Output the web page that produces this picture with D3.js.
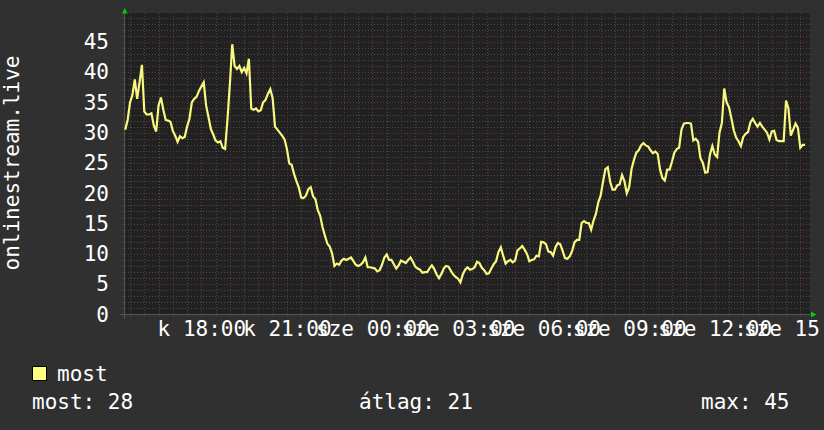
<!DOCTYPE html>
<html>
<head>
<meta charset="utf-8">
<style>
  body { margin: 0; background: #303030; }
  svg text { font-family: "DejaVu Sans Mono", monospace; font-size: 21px; fill: #ffffff; }
</style>
<script src="https://d3js.org/d3.v7.min.js"></script>
</head>
<body>
<div id="chart"></div>
<script>
// data: one sample every 5 minutes, starting k (Tue) 15:20
var startTime = new Date(2024, 0, 9, 15, 20);
var stepMinutes = 5;
var values = [
  30.5, 32.1, 35.0, 36.2, 38.8, 35.6, 38.3, 41.2, 33.5, 33.0, 33.0, 33.2, 31.2, 30.2, 34.5, 35.8,
  33.8, 32.1, 32.0, 31.8, 30.3, 29.5, 28.5, 29.4, 29.1, 29.3, 31.0, 32.3, 35.0, 35.6, 35.9, 36.9,
  37.6, 38.3, 34.5, 32.6, 30.6, 29.7, 28.7, 28.4, 28.6, 27.5, 27.3, 32.2, 38.0, 44.6, 41.0, 40.5,
  41.0, 40.0, 40.7, 39.8, 42.2, 34.0, 33.8, 34.0, 33.5, 33.7, 35.0, 35.4, 36.4, 37.2, 35.7, 31.0,
  30.5, 30.0, 29.5, 28.9, 27.3, 24.9, 24.7, 23.2, 22.0, 21.0, 19.3, 19.2, 19.6, 20.7, 21.0, 19.5,
  19.0, 17.2, 16.3, 14.4, 13.0, 11.7, 11.2, 10.1, 8.0, 8.4, 8.2, 8.9, 9.2, 9.0, 9.2, 9.4,
  8.8, 8.2, 8.0, 8.2, 8.6, 9.4, 7.8, 7.8, 7.7, 7.6, 7.1, 7.3, 8.2, 9.4, 9.9, 9.0,
  9.0, 8.3, 7.6, 8.1, 8.9, 8.7, 8.5, 9.0, 9.4, 8.7, 7.9, 7.6, 7.4, 6.9, 7.0, 7.0,
  7.6, 8.1, 7.5, 6.6, 6.0, 6.7, 7.6, 8.0, 7.9, 7.2, 6.6, 6.2, 5.9, 5.3, 6.6, 7.4,
  7.8, 7.4, 7.5, 7.8, 8.7, 8.5, 7.7, 7.3, 6.7, 6.8, 7.6, 8.3, 8.8, 10.3, 11.1, 9.7,
  8.4, 8.8, 9.0, 8.6, 8.9, 10.6, 10.9, 11.3, 10.7, 10.0, 8.8, 9.0, 9.1, 9.7, 9.6, 12.0,
  11.9, 11.6, 10.4, 10.3, 9.7, 11.1, 11.8, 11.6, 10.5, 9.3, 9.2, 9.6, 10.5, 11.9, 12.3, 12.3,
  15.1, 15.4, 15.1, 15.1, 14.0, 15.5, 16.6, 18.5, 19.6, 21.9, 24.0, 24.3, 21.9, 20.6, 20.6, 21.3,
  21.5, 23.0, 22.0, 20.0, 21.0, 24.0, 25.5, 26.7, 27.1, 27.9, 28.3, 27.9, 27.7, 27.1, 26.6, 26.9,
  26.5, 23.9, 22.5, 22.1, 23.9, 23.9, 25.2, 26.7, 27.3, 27.5, 30.5, 31.5, 31.6, 31.6, 31.5, 28.7,
  29.0, 28.5, 25.8, 25.0, 23.4, 23.5, 26.4, 27.8, 26.4, 26.0, 30.0, 31.6, 37.3, 35.0, 34.2, 32.4,
  30.4, 29.2, 28.6, 27.8, 29.3, 29.8, 30.1, 31.7, 32.3, 31.6, 31.0, 31.6, 31.0, 30.5, 30.0, 28.9,
  30.2, 30.3, 28.8, 28.6, 28.6, 28.6, 35.3, 34.0, 29.5, 30.5, 31.5, 30.8, 27.5, 28.0, 28.0
];
var yTicks = [0, 5, 10, 15, 20, 25, 30, 35, 40, 45];
var dayNames = ["v", "h", "k", "sze", "cs", "p", "szo"];
var seriesName = "most";
var statLabels = ["most: 28", "átlag: 21", "max: 45"];
var axisTitle = "onlinestream.live";

var W = 824, H = 430;
var plotL = 124, plotR = 810, plotT = 13, plotB = 314.5;

var data = values.map(function(v, i) {
  return { t: d3.timeMinute.offset(startTime, i * stepMinutes), v: v };
});

var svg = d3.select("#chart").append("svg")
  .attr("width", W).attr("height", H);

svg.append("rect").attr("width", W).attr("height", H).attr("fill", "#303030");

var x = d3.scaleTime()
  .domain([new Date(2024, 0, 9, 15, 17, 18), new Date(2024, 0, 10, 15, 20, 24)])
  .range([plotL, plotR]);
var y = d3.scaleLinear().domain([0, 49.75]).range([plotB, plotT]);

// plot background
svg.append("rect")
  .attr("x", plotL).attr("y", plotT)
  .attr("width", plotR - plotL).attr("height", plotB - plotT)
  .attr("fill", "#212121");

var grid = svg.append("g").attr("shape-rendering", "crispEdges");

// minor grid
grid.selectAll(".hmin").data(d3.range(1, 50)).enter().append("line")
  .attr("x1", plotL - 2).attr("x2", plotR)
  .attr("y1", function(d) { return Math.round(y(d)) + 0.5; })
  .attr("y2", function(d) { return Math.round(y(d)) + 0.5; })
  .attr("stroke", "#4b4b4b").attr("stroke-dasharray", "1,2");
grid.selectAll(".vmin").data(x.ticks(d3.timeMinute.every(30))).enter().append("line")
  .attr("x1", function(d) { return Math.round(x(d)) + 0.5; })
  .attr("x2", function(d) { return Math.round(x(d)) + 0.5; })
  .attr("y1", plotT).attr("y2", plotB + 2)
  .attr("stroke", "#4b4b4b").attr("stroke-dasharray", "1,2");

// major grid
grid.selectAll(".hmaj").data(yTicks.slice(1)).enter().append("line")
  .attr("x1", plotL - 2).attr("x2", plotR)
  .attr("y1", function(d) { return Math.round(y(d)) + 0.5; })
  .attr("y2", function(d) { return Math.round(y(d)) + 0.5; })
  .attr("stroke", "#6a3434").attr("stroke-dasharray", "1,2");
grid.selectAll(".vmaj").data(x.ticks(d3.timeHour.every(1))).enter().append("line")
  .attr("x1", function(d) { return Math.round(x(d)) + 0.5; })
  .attr("x2", function(d) { return Math.round(x(d)) + 0.5; })
  .attr("y1", plotT).attr("y2", plotB + 3)
  .attr("stroke", "#6a3434").attr("stroke-dasharray", "1,2");

// axes lines
svg.append("line").attr("x1", plotL - 4).attr("x2", plotR + 2)
  .attr("y1", plotB).attr("y2", plotB)
  .attr("stroke", "#555555").attr("shape-rendering", "crispEdges");
svg.append("line").attr("x1", plotL + 0.5).attr("x2", plotL + 0.5)
  .attr("y1", plotB + 4).attr("y2", plotT - 2)
  .attr("stroke", "#555555").attr("shape-rendering", "crispEdges");

// arrows
svg.append("path").attr("d", "M122,13.5 L127.5,13.5 L124.75,8 Z").attr("fill", "#00d000");
svg.append("path").attr("d", "M811,311.5 L811,317.5 L816.5,314.5 Z").attr("fill", "#00d000");

// y tick labels
var yAxis = svg.append("g")
  .attr("transform", "translate(109,0)")
  .call(d3.axisLeft(y).tickValues(yTicks).tickSize(0).tickPadding(0));
yAxis.select(".domain").remove();
yAxis.selectAll("text")
  .attr("fill", "#ffffff")
  .style("font-family", "DejaVu Sans Mono")
  .style("font-size", "21px");

// x tick labels (overlapping, as in the original)
var xAxis = svg.append("g")
  .attr("transform", "translate(0,321)")
  .call(d3.axisBottom(x)
    .ticks(d3.timeHour.every(3))
    .tickSize(0).tickPadding(0)
    .tickFormat(function(d) { return dayNames[d.getDay()] + " " + d3.timeFormat("%H:%M")(d); }));
xAxis.select(".domain").remove();
xAxis.selectAll("text")
  .attr("fill", "#ffffff")
  .attr("dy", "0.72em")
  .style("font-family", "DejaVu Sans Mono")
  .style("font-size", "21px");

// y axis title
svg.append("text")
  .attr("transform", "translate(18.5,163) rotate(-90)")
  .attr("text-anchor", "middle")
  .text(axisTitle);

// series line
var line = d3.line()
  .x(function(d) { return x(d.t); })
  .y(function(d) { return y(d.v); });
svg.append("path")
  .datum(data)
  .attr("d", line)
  .attr("fill", "none")
  .attr("stroke", "#f8f880")
  .attr("stroke-width", 2.2)
  .attr("stroke-linejoin", "miter");

// legend
svg.append("rect")
  .attr("x", 32.5).attr("y", 366.5).attr("width", 14).attr("height", 14)
  .attr("fill", "#ffff80").attr("stroke", "#000000");
svg.append("text").attr("x", 57).attr("y", 381).text(seriesName);

var statX = [32, 359, 701];
svg.selectAll(".stat").data(statLabels).enter().append("text")
  .attr("x", function(d, i) { return statX[i]; })
  .attr("y", 409)
  .text(function(d) { return d; });
</script>
</body>
</html>
